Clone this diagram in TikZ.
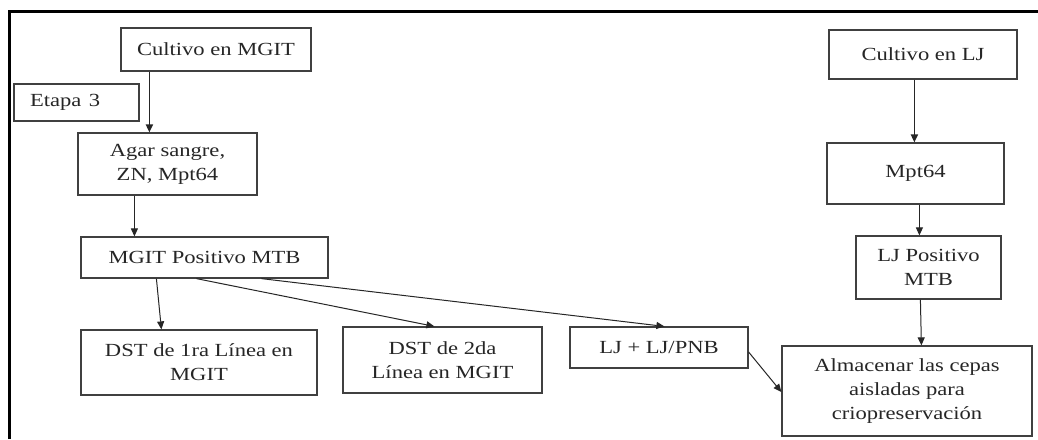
\documentclass[tikz,border=0pt]{standalone}
\usepackage{fontspec}
\usepackage{graphicx}
\setmainfont{Liberation Serif}
\newcommand\sx[1]{\scalebox{1.22}[1]{#1}}
\usetikzlibrary{arrows.meta}
\begin{document}
\begin{tikzpicture}[x=1pt,y=-1pt,
  box/.style={draw=black!75, line width=1.2pt, inner sep=0pt, align=center,
    font=\rmfamily\fontsize{18.5pt}{24pt}\selectfont, text=black!85},
  arr/.style={draw=black!85, line width=1pt, -{Triangle[length=8pt,width=7pt]}},
  thickarr/.style={arr, line width=1.8pt}]
\useasboundingbox (0,0) rectangle (1038,439);
\fill[white] (0,0) rectangle (1038,439);
\draw[line width=3pt] (9,439) -- (9,11) -- (1038,11);

\node[box, minimum width=190pt, minimum height=43pt] (cmgit) at (216,49.5) {\sx{Cultivo en MGIT}};
\node[box, minimum width=125pt, minimum height=37pt, text width=93pt, inner xsep=16pt, align=left] (etapa) at (76.5,102.5) {\sx{Etapa 3}};
\node[box, minimum width=179pt, minimum height=62pt] (agar) at (167.5,164) {\sx{Agar sangre,}\\\sx{ZN, Mpt64}};
\node[box, minimum width=247pt, minimum height=41pt] (mpos) at (204.5,257.5) {\sx{MGIT Positivo MTB}};
\node[box, minimum width=236pt, minimum height=65pt] (dst1) at (199,362.5) {\sx{DST de 1ra Línea en}\\\sx{MGIT}};
\node[box, minimum width=199pt, minimum height=66pt] (dst2) at (442.5,360) {\sx{DST de 2da}\\\sx{Línea en MGIT}};
\node[box, minimum width=178pt, minimum height=41pt] (ljpnb) at (659,347.5) {\sx{LJ + LJ/PNB}};
\node[box, minimum width=250pt, minimum height=90pt] (alm) at (907,391) {\sx{Almacenar las cepas}\\\sx{aisladas para}\\\sx{criopreservación}};
\node[box, minimum width=145pt, minimum height=63pt] (ljpos) at (928.5,267.5) {\sx{LJ Positivo}\\\sx{MTB}};
\node[box, minimum width=188pt, minimum height=49pt] (clj) at (923,54.5) {\sx{Cultivo en LJ}};
\node[box, minimum width=177pt, minimum height=61pt] (mpt) at (915.5,173.5) {\sx{Mpt64}};

\draw[thickarr] ([xshift=29pt]cmgit.south west) -- ([xshift=72pt]agar.north west);
\draw[arr] ([xshift=57pt]agar.south west) -- ([xshift=54pt]mpos.north west);
\draw[arr] ([xshift=76pt]mpos.south west) -- ([xshift=81pt]dst1.north west);
\draw[arr] ([xshift=116pt]mpos.south west) -- ([xshift=92pt]dst2.north west);
\draw[arr] ([xshift=181pt]mpos.south west) -- ([xshift=95pt]ljpnb.north west);
\draw[arr] ([yshift=-4.5pt]ljpnb.east) -- ([yshift=-1pt]alm.west);
\draw[thickarr] ([xshift=86pt]clj.south west) -- ([xshift=88pt]mpt.north west);
\draw[arr] ([xshift=93pt]mpt.south west) -- ([xshift=64pt]ljpos.north west);
\draw[arr] ([xshift=65pt]ljpos.south west) -- ([xshift=140pt]alm.north west);
\end{tikzpicture}
\end{document}
